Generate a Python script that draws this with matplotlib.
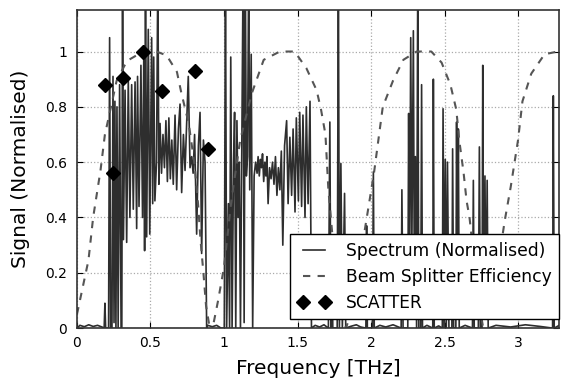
import matplotlib
matplotlib.use("Agg")
import matplotlib.pyplot as plt

# --- dados ---
# espectro (normalizado), frequencia em THz
freq = [0.000, 0.020, 0.050, 0.080, 0.110, 0.140, 0.170, 0.185, 0.190, 0.195,
        0.215, 0.222, 0.229, 0.238, 0.245, 0.252, 0.258, 0.265, 0.272, 0.280,
        0.290, 0.300, 0.305, 0.310, 0.316,
        0.327, 0.338, 0.349, 0.360, 0.372, 0.383, 0.395, 0.406, 0.412, 0.422,
        0.435, 0.446, 0.455, 0.460, 0.466, 0.474, 0.485, 0.495, 0.508, 0.515,
        0.522, 0.530, 0.541, 0.550, 0.557,
        0.565, 0.575, 0.585, 0.595, 0.605, 0.615, 0.625, 0.635, 0.645, 0.655,
        0.667, 0.678, 0.690, 0.701, 0.712, 0.724, 0.735, 0.745, 0.757, 0.769,
        0.780, 0.790, 0.800, 0.814, 0.826, 0.837, 0.848, 0.860, 0.871, 0.882,
        0.890, 0.920, 0.950, 0.980,
        1.002, 1.010, 1.018, 1.030, 1.038, 1.046, 1.055, 1.065, 1.072, 1.080,
        1.088, 1.096, 1.104, 1.112, 1.120, 1.130, 1.137, 1.145, 1.152, 1.160,
        1.168, 1.175, 1.185, 1.195, 1.205,
        1.215, 1.225, 1.232, 1.240, 1.248, 1.255, 1.262, 1.270, 1.278, 1.285,
        1.292, 1.300, 1.310, 1.320, 1.330, 1.340, 1.350, 1.360, 1.370, 1.380,
        1.390, 1.400, 1.412, 1.426, 1.436, 1.448, 1.460, 1.470, 1.483, 1.492,
        1.506, 1.515, 1.528, 1.537, 1.551, 1.560, 1.572, 1.585, 1.595,
        1.620, 1.650, 1.680, 1.710, 1.720, 1.727, 1.733, 1.740,
        1.770, 1.778, 1.785, 1.795, 1.805, 1.820, 1.828,
        1.860, 1.900, 1.930, 1.965, 1.970, 1.975, 2.010, 2.016, 2.022,
        2.060, 2.100, 2.150, 2.205, 2.210, 2.218,
        2.250, 2.256, 2.262, 2.270, 2.278, 2.288, 2.295, 2.302, 2.310, 2.318,
        2.325, 2.338, 2.344, 2.350, 2.380,
        2.420, 2.424, 2.430, 2.460,
        2.485, 2.490, 2.497, 2.505, 2.512, 2.520, 2.530, 2.550, 2.555, 2.562,
        2.577, 2.582, 2.588, 2.594, 2.600, 2.640,
        2.690, 2.696, 2.702, 2.730, 2.737, 2.744, 2.755, 2.760, 2.766, 2.775,
        2.782, 2.790, 2.797, 2.850, 2.950, 3.050, 3.150,
        3.235, 3.240, 3.246, 3.280]
signal = [0.000, 0.010, 0.005, 0.012, 0.006, 0.010, 0.004, 0.000, 0.090, 0.000,
          0.000, 1.050, 0.000, 0.000, 0.910, 0.020, 0.820, 0.000, 0.800, 0.000,
          0.880, 0.000, 0.000, 1.300, 0.320,
          0.860, 0.310, 0.900, 0.400, 0.880, 0.430, 0.890, 0.360, 0.910, 0.440,
          0.950, 0.400, 1.020, 0.280, 1.300, 0.330, 1.080, 0.340, 1.050, 0.450,
          0.980, 0.460, 0.600, 1.300, 0.520,
          0.740, 0.560, 0.700, 0.580, 0.750, 0.530, 0.760, 0.540, 0.680, 0.520,
          0.770, 0.500, 0.720, 0.810, 0.490, 0.700, 0.570, 0.720, 0.910, 0.580,
          0.620, 0.560, 0.700, 0.340, 0.660, 0.780, 0.270, 0.680, 0.600, 0.000,
          0.010, 0.005, 0.010, 0.000,
          0.000, 1.300, 0.000, 0.450, 0.000, 0.980, 0.000, 0.600, 0.780, 0.000,
          0.750, 0.400, 0.600, 0.000, 0.580, 1.300, 0.020, 1.300, 0.550, 0.620,
          1.300, 0.500, 0.990, 0.000, 0.550,
          0.600, 0.560, 0.620, 0.550, 0.610, 0.580, 0.630, 0.530, 0.600, 0.550,
          0.620, 0.450, 0.580, 0.540, 0.600, 0.520, 0.620, 0.480, 0.580, 0.500,
          0.640, 0.300, 0.660, 0.750, 0.450, 0.690, 0.480, 0.720, 0.420, 0.760,
          0.460, 0.780, 0.440, 0.770, 0.400, 0.800, 0.450, 0.820, 0.000,
          0.010, 0.004, 0.012, 0.000, 0.745, 0.000, 0.300, 0.000,
          0.000, 1.300, 0.000, 0.595, 0.000, 0.487, 0.000,
          0.006, 0.012, 0.004, 0.000, 0.370, 0.000, 0.000, 0.565, 0.000,
          0.010, 0.004, 0.012, 0.000, 0.500, 0.000,
          0.000, 0.776, 0.100, 1.050, 0.300, 1.075, 0.100, 0.620, 0.000, 1.300,
          0.000, 0.000, 0.880, 0.000, 0.010,
          0.000, 0.900, 0.000, 0.008,
          0.000, 0.793, 0.000, 0.610, 0.000, 0.600, 0.000, 0.000, 0.648, 0.000,
          0.000, 0.745, 0.100, 0.720, 0.000, 0.010,
          0.000, 0.534, 0.000, 0.000, 0.655, 0.000, 0.000, 0.950, 0.100, 0.550,
          0.050, 0.534, 0.000, 0.010, 0.004, 0.012, 0.006,
          0.000, 0.840, 0.000, 0.010]

# eficiencia do divisor de feixe
bs_freq = [0.000, 0.040, 0.078, 0.110, 0.160, 0.190, 0.215, 0.270, 0.340, 0.450,
           0.540, 0.610, 0.680, 0.710, 0.760, 0.800, 0.825, 0.840, 0.860, 0.878,
           0.900, 0.930, 0.960, 1.000, 1.050, 1.110, 1.190, 1.270, 1.380, 1.480,
           1.560, 1.630, 1.660, 1.690, 1.700, 1.710, 1.740, 1.780, 1.810, 1.830,
           1.860, 1.900, 1.950, 2.020, 2.080, 2.150, 2.220, 2.310, 2.410, 2.480,
           2.540, 2.580, 2.600, 2.630, 2.650, 2.670, 2.700, 2.730, 2.760, 2.790,
           2.830, 2.870, 2.910, 2.950, 3.000, 3.030, 3.090, 3.180, 3.270, 3.300]
bs_eff = [0.050, 0.150, 0.245, 0.400, 0.570, 0.700, 0.760, 0.895, 0.966, 1.000,
          1.000, 0.986, 0.926, 0.850, 0.740, 0.590, 0.440, 0.320, 0.200, 0.080,
          0.010, 0.020, 0.100, 0.220, 0.460, 0.680, 0.850, 0.970, 1.000, 1.000,
          0.940, 0.860, 0.790, 0.700, 0.600, 0.500, 0.320, 0.150, 0.040, 0.000,
          0.050, 0.160, 0.330, 0.560, 0.800, 0.895, 0.970, 1.000, 1.000, 0.960,
          0.880, 0.790, 0.680, 0.560, 0.460, 0.400, 0.250, 0.100, 0.010, 0.030,
          0.120, 0.250, 0.390, 0.510, 0.680, 0.820, 0.920, 0.990, 1.000, 1.000]

# pontos de dispersao
sc_freq = [0.190, 0.243, 0.315, 0.450, 0.576, 0.800, 0.893]
sc_val = [0.880, 0.560, 0.905, 1.000, 0.856, 0.928, 0.649]

# --- grafico ---
fig = plt.figure(figsize=(5.66, 3.86), dpi=100)
ax = fig.add_axes([0.136, 0.150, 0.852, 0.824])

ax.plot(freq, signal, color='#2e2e2e', lw=1.2, label='Spectrum (Normalised)')
ax.plot(bs_freq, bs_eff, color='#555555', lw=1.5, ls=(0, (3.5, 3.5)),
        label='Beam Splitter Efficiency')
ax.plot(sc_freq, sc_val, 'D', color='black', markersize=7, label='SCATTER')

ax.set_xlim(0, 3.28)
ax.set_ylim(0, 1.15)
ax.set_xticks([0, 0.5, 1, 1.5, 2, 2.5, 3])
ax.set_xticklabels(['0', '0.5', '1', '1.5', '2', '2.5', '3'])
ax.set_yticks([0, 0.2, 0.4, 0.6, 0.8, 1])
ax.set_yticklabels(['0', '0.2', '0.4', '0.6', '0.8', '1'])
ax.tick_params(direction='in', labelsize=10, top=True, right=True, length=4)
ax.tick_params(axis='y', pad=7)
ax.tick_params(axis='x', pad=6)
ax.grid(True, color='#aaaaaa', ls=':', lw=0.9)
for s in ax.spines.values():
    s.set_color('#333333')
    s.set_linewidth(1.2)

ax.set_xlabel('Frequency [THz]', fontsize=14.5, labelpad=6)
ax.set_ylabel('Signal (Normalised)', fontsize=14.5, labelpad=11)

leg = ax.legend(loc='lower right', bbox_to_anchor=(1.0, 0.028), borderaxespad=0,
                fontsize=12.3, numpoints=2, fancybox=False, framealpha=1,
                handlelength=1.9, handletextpad=0.9, borderpad=0.45,
                labelspacing=0.45)
leg.get_frame().set_edgecolor('black')
leg.get_frame().set_linewidth(1.0)

fig.savefig('out.png', dpi=100)
